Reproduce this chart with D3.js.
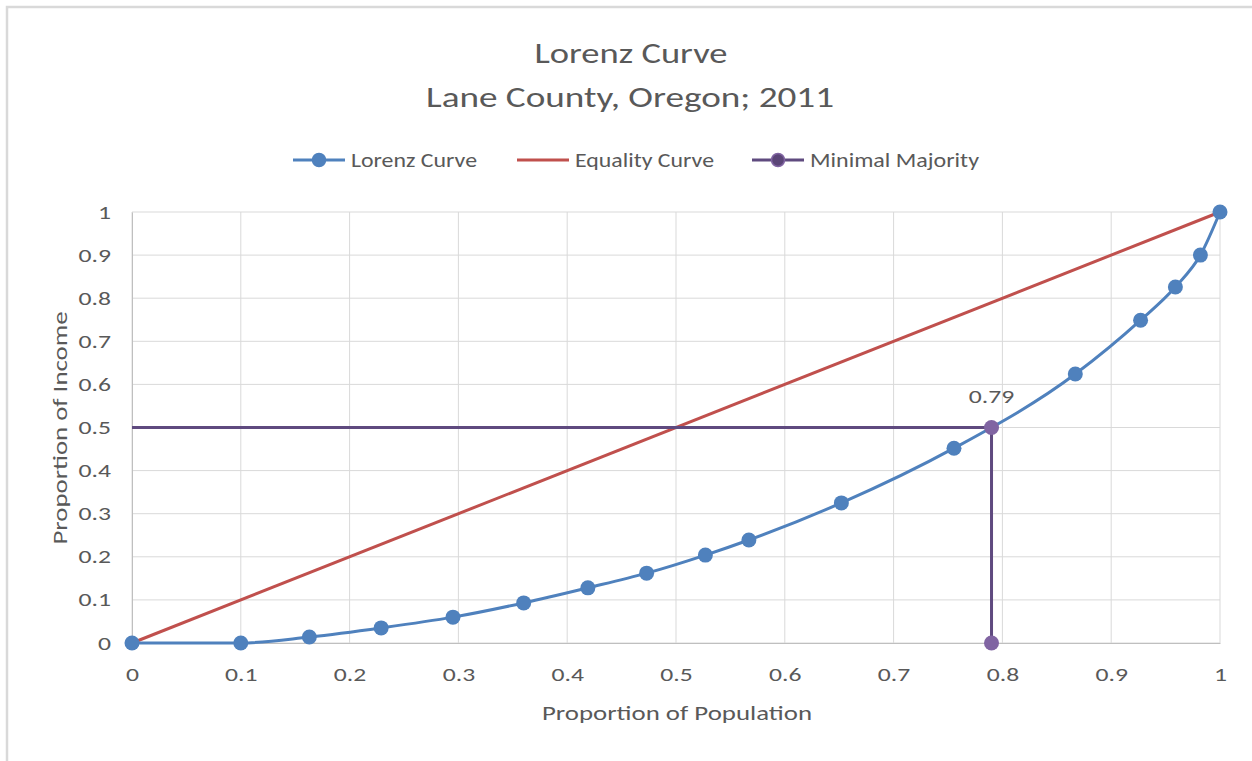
<!DOCTYPE html>
<html>
<head>
<meta charset="utf-8">
<script src="https://cdn.jsdelivr.net/npm/d3@7"></script>
<style>
  html, body { margin: 0; padding: 0; background: #fff; }
  text { font-family: Carlito, Calibri, Lato, "Open Sans", sans-serif; fill: #595959; }
</style>
</head>
<body>
<svg id="chart" width="1252" height="761"></svg>
<script>
// ---- data ----
const titleLines = ["Lorenz Curve", "Lane County, Oregon; 2011"];
const seriesNames = ["Lorenz Curve", "Equality Curve", "Minimal Majority"];
const lorenzX = [0, 0.100, 0.163, 0.229, 0.295, 0.360, 0.419, 0.473, 0.527, 0.567, 0.652, 0.7555, 0.867, 0.927, 0.959, 0.982, 1];
const lorenzY = [0, 0, 0.014, 0.035, 0.060, 0.093, 0.128, 0.162, 0.204, 0.239, 0.325, 0.452, 0.624, 0.749, 0.826, 0.900, 1];
const equalityX = [0, 1];
const equalityY = [0, 1];
const majorityX = [0, 0.79, 0.79];
const majorityY = [0.5, 0.5, 0];
const majorityMarked = [false, true, true];
const majorityLabel = "0.79";
const xTicks = [0, 0.1, 0.2, 0.3, 0.4, 0.5, 0.6, 0.7, 0.8, 0.9, 1];
const yTicks = [0, 0.1, 0.2, 0.3, 0.4, 0.5, 0.6, 0.7, 0.8, 0.9, 1];
const xTitle = "Proportion of Population";
const yTitle = "Proportion of Income";

// ---- layout ----
const svg = d3.select("#chart");
const pLeft = 132, pRight = 1220, pTop = 212, pBottom = 643;
const x = d3.scaleLinear().domain([0, 1]).range([pLeft, pRight]);
const y = d3.scaleLinear().domain([0, 1]).range([pBottom, pTop]);

const blue = "#4F81BD", red = "#C0504D", purpleLine = "#5F4A7F", purpleMarker = "#8064A2";

// horizontal stretch helpers (reference text is wide)
function fitWidth(sel, w) {
  sel.attr("textLength", w).attr("lengthAdjust", "spacingAndGlyphs");
}
function stretch(sel, f) {
  sel.each(function () {
    const len = this.getComputedTextLength();
    d3.select(this).attr("textLength", len * f).attr("lengthAdjust", "spacingAndGlyphs");
  });
}

// frame
svg.append("path")
  .attr("d", `M7,761 L7,7 L1252,7`)
  .attr("fill", "none").attr("stroke", "#d9d9d9").attr("stroke-width", 2.5);

// gridlines
const grid = svg.append("g");
grid.selectAll("line.h").data(yTicks).join("line")
  .attr("x1", pLeft).attr("x2", pRight)
  .attr("y1", d => y(d)).attr("y2", d => y(d))
  .attr("stroke", "#d9d9d9").attr("stroke-width", 1);
grid.selectAll("line.v").data(xTicks).join("line")
  .attr("y1", pTop).attr("y2", pBottom)
  .attr("x1", d => x(d)).attr("x2", d => x(d))
  .attr("stroke", "#d9d9d9").attr("stroke-width", 1);

// axes via d3 axis
const xAxis = d3.axisBottom(x).tickValues(xTicks).tickSize(0).tickPadding(25)
  .tickFormat(d => d3.format("~g")(d));
const gx = svg.append("g").attr("transform", `translate(0,${pBottom})`).call(xAxis);
gx.select(".domain").attr("stroke", "#bfbfbf");
gx.selectAll("text").style("font-size", "19px").attr("fill", "#595959")
  .style("font-family", "Carlito, Calibri, Lato, sans-serif");
stretch(gx.selectAll("text"), 1.35);

const yAxis = d3.axisLeft(y).tickValues(yTicks).tickSize(0).tickPadding(21)
  .tickFormat(d => d3.format("~g")(d));
const gy = svg.append("g").attr("transform", `translate(${pLeft},0)`).call(yAxis);
gy.select(".domain").attr("stroke", "#bfbfbf");
gy.selectAll("text").style("font-size", "19px").attr("fill", "#595959")
  .style("font-family", "Carlito, Calibri, Lato, sans-serif");
stretch(gy.selectAll("text"), 1.35);

// titles
fitWidth(svg.append("text").attr("x", 631).attr("y", 63).attr("text-anchor", "middle")
  .style("font-size", "29px").text(titleLines[0]), 193);
fitWidth(svg.append("text").attr("x", 630).attr("y", 107).attr("text-anchor", "middle")
  .style("font-size", "29px").text(titleLines[1]), 408);
fitWidth(svg.append("text").attr("x", 677).attr("y", 720).attr("text-anchor", "middle")
  .style("font-size", "20px").text(xTitle), 270);
fitWidth(svg.append("text").attr("transform", `translate(67,428) rotate(-90)`).attr("text-anchor", "middle")
  .style("font-size", "20px").text(yTitle), 233);

// equality line
const line = d3.line().x(d => x(d[0])).y(d => y(d[1]));
svg.append("path").datum(d3.zip(equalityX, equalityY))
  .attr("d", line).attr("fill", "none").attr("stroke", red).attr("stroke-width", 3);

// lorenz curve
const lorenz = d3.zip(lorenzX, lorenzY);
svg.append("path").datum(lorenz)
  .attr("d", d3.line().x(d => x(d[0])).y(d => y(d[1])).curve(d3.curveMonotoneX))
  .attr("fill", "none").attr("stroke", blue).attr("stroke-width", 3);
svg.append("g").selectAll("circle").data(lorenz).join("circle")
  .attr("cx", d => x(d[0])).attr("cy", d => y(d[1])).attr("r", 7.5)
  .attr("fill", blue);

// minimal majority
const maj = d3.zip(majorityX, majorityY, majorityMarked);
svg.append("path").datum(maj)
  .attr("d", line).attr("fill", "none").attr("stroke", purpleLine).attr("stroke-width", 3);
svg.append("g").selectAll("circle").data(maj.filter(d => d[2])).join("circle")
  .attr("cx", d => x(d[0])).attr("cy", d => y(d[1])).attr("r", 7.5)
  .attr("fill", purpleMarker);
const lbl = svg.append("text").attr("x", x(majorityX[1])).attr("y", y(majorityY[1]) - 25)
  .attr("text-anchor", "middle").style("font-size", "19px").text(majorityLabel);
stretch(lbl, 1.35);

// legend
const legend = svg.append("g");
const legendItems = [
  { name: seriesNames[0], x0: 293, w: 126, color: blue, marker: blue, mstroke: blue },
  { name: seriesNames[1], x0: 517, w: 139, color: red, marker: null },
  { name: seriesNames[2], x0: 752, w: 169, color: purpleLine, marker: "#5B4577", mstroke: purpleMarker }
];
legendItems.forEach(it => {
  const g = legend.append("g");
  g.append("line").attr("x1", it.x0).attr("x2", it.x0 + 52).attr("y1", 160).attr("y2", 160)
    .attr("stroke", it.color).attr("stroke-width", 3);
  if (it.marker) {
    g.append("circle").attr("cx", it.x0 + 26).attr("cy", 160).attr("r", 6.5)
      .attr("fill", it.marker).attr("stroke", it.mstroke).attr("stroke-width", 1.5);
  }
  fitWidth(g.append("text").attr("x", it.x0 + 58).attr("y", 167).style("font-size", "20px").text(it.name), it.w);
});
</script>
</body>
</html>
